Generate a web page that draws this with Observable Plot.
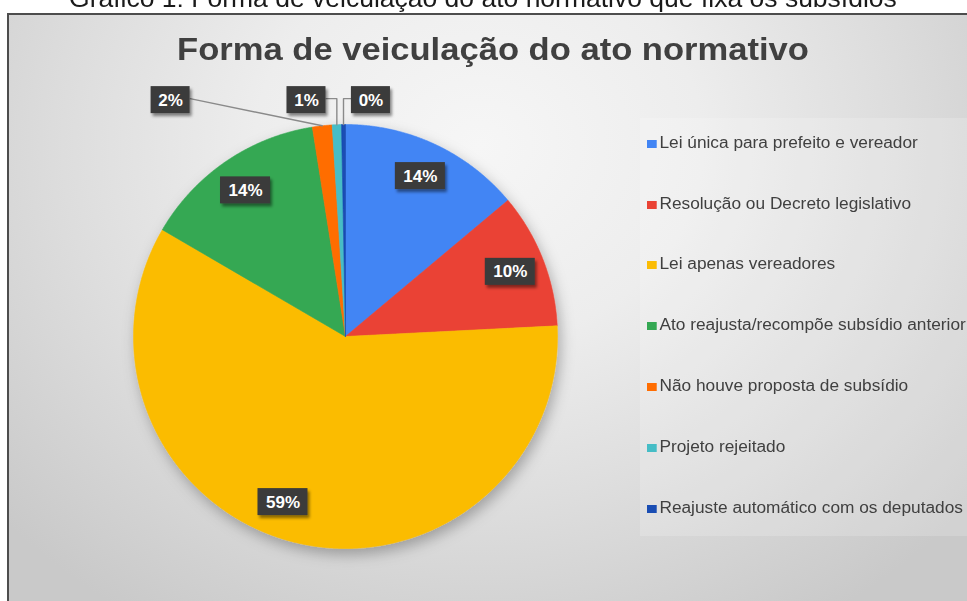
<!DOCTYPE html>
<html>
<head>
<meta charset="utf-8">
<script src="https://cdn.jsdelivr.net/npm/d3@7"></script>
<script src="https://cdn.jsdelivr.net/npm/@observablehq/plot@0.6"></script>
<style>
  html, body { margin: 0; padding: 0; }
  body { width: 967px; height: 601px; overflow: hidden; background: #fff; position: relative;
         font-family: "Liberation Sans", Arial, sans-serif; }
  #caption { position: absolute; left: 0; width: 967px; top: -14px; height: 25px; line-height: 25px;
             font-size: 25px; color: #1a1a1a; text-align: center; white-space: nowrap;
             transform: scaleX(1.06); transform-origin: 493px 0; }
  #frame { position: absolute; left: 7px; top: 13px; width: 1000px; height: 640px;
           border: 2px solid #4d4d4d; box-sizing: border-box;
           background: radial-gradient(ellipse 640px 560px at 470px 130px, #f6f6f6 0%, #ededed 35%, #dddddd 65%, #c9c9c9 100%); }
  #legendbox { position: absolute; left: 640px; top: 118px; width: 340px; height: 418px;
               background: rgba(255,255,255,0.18); }
  #title { position: absolute; left: 0; width: 986px; top: 33px; height: 32px; line-height: 32px;
           font-size: 32px; font-weight: bold; color: #404040; text-align: center; white-space: nowrap;
           transform: scaleX(1.08); transform-origin: 493px 0; }
  #chart { position: absolute; left: 0; top: 0; }
  .item { position: absolute; left: 647px; height: 16px; line-height: 16px; font-size: 16px;
          color: #404040; white-space: nowrap; transform: scaleX(1.08); transform-origin: 0 0; }
  .sw { display: inline-block; width: 8.5px; height: 8px; margin-right: 3px; vertical-align: baseline; }
</style>
</head>
<body>
<div id="caption">Gráfico 1: Forma de veiculação do ato normativo que fixa os subsídios</div>
<div id="frame"></div>
<div id="legendbox"></div>
<div id="title">Forma de veiculação do ato normativo</div>
<div id="chart"></div>
<div id="legend"></div>
<script>
// ---- data ----
const categories = [
  "Lei única para prefeito e vereador",
  "Resolução ou Decreto legislativo",
  "Lei apenas vereadores",
  "Ato reajusta/recompõe subsídio anterior",
  "Não houve proposta de subsídio",
  "Projeto rejeitado",
  "Reajuste automático com os deputados"
];
const values = [13.9, 10.3, 59.2, 14.1, 1.5, 0.7, 0.3];
const colors = ["#4285F4", "#EA4335", "#FBBC04", "#34A853", "#FF6D01", "#46BDC6", "#1A4DB3"];

// ---- layout (pixels / radius units) ----
const W = 967, H = 601, CX = 345, CY = 336, R = 212;
const insideRadius = 0.835;
const angleNudge = { "Lei apenas vereadores": 7 * Math.PI / 180 };
const outsideLabels = {
  "Não houve proposta de subsídio": { x: -0.825, y: 1.115, leader: "straight", side: "right" },
  "Projeto rejeitado": { x: -0.184, y: 1.115, leader: "elbow", side: "right" },
  "Reajuste automático com os deputados": { x: 0.12, y: 1.115, leader: "elbow", side: "left" }
};

const total = d3.sum(values);
const arcs = d3.pie().sort(null).value(d => d)(values);

// slice polygons
const piePoints = [];
arcs.forEach((a, i) => {
  const name = categories[i];
  const s = a.startAngle, e = a.endAngle;
  const n = Math.max(2, Math.ceil((e - s) / (0.25 * Math.PI / 180)));
  piePoints.push({ name, x: 0, y: 0 });
  for (let k = 0; k <= n; k++) {
    const t = s + (e - s) * k / n;
    piePoints.push({ name, x: Math.sin(t), y: Math.cos(t) });
  }
  piePoints.push({ name, x: 0, y: 0 });
});

// labels
const labels = [];
const leaders = [];
arcs.forEach((a, i) => {
  const name = categories[i];
  const text = Math.round(values[i] / total * 100) + "%";
  const wpx = text.length === 2 ? 39 : 50;
  const hw = wpx / 2 / R, hh = 27 / 2 / R;
  const mid = (a.startAngle + a.endAngle) / 2;
  let x, y;
  if (outsideLabels[name]) {
    const o = outsideLabels[name];
    x = o.x; y = o.y;
    const sx = o.side === "right" ? x + hw : x - hw;
    const ax = Math.sin(mid), ay = Math.cos(mid);
    leaders.push({ name, x: sx, y: y + 0.007 });
    if (o.leader === "elbow") leaders.push({ name, x: ax, y: y + 0.007 });
    leaders.push({ name, x: ax, y: ay });
  } else {
    const m = mid + (angleNudge[name] || 0);
    x = insideRadius * Math.sin(m); y = insideRadius * Math.cos(m);
  }
  labels.push({ name, text, x, y, x1: x - hw, x2: x + hw, y1: y - hh, y2: y + hh });
});

const chart = Plot.plot({
  width: W, height: H,
  margin: 0,
  style: { background: "transparent", overflow: "visible" },
  x: { domain: [-CX / R, (W - CX) / R], axis: null },
  y: { domain: [-(H - CY) / R, CY / R], axis: null },
  color: { domain: categories, range: colors },
  marks: [
    Plot.line(piePoints, { x: "x", y: "y", z: "name", fill: "name", stroke: "name", strokeWidth: 0.6, curve: "linear" }),
    Plot.line(leaders, { x: "x", y: "y", z: "name", stroke: "#8a8a8a", strokeWidth: 1.4, curve: "linear" }),
    Plot.rect(labels, { x1: "x1", x2: "x2", y1: "y1", y2: "y2", fill: "#3a3a3a" }),
    Plot.text(labels, { x: "x", y: "y", text: "text", fill: "#ffffff", fontSize: 17, fontWeight: "bold",
                        fontFamily: "Liberation Sans, Arial, sans-serif" })
  ]
});
document.getElementById("chart").appendChild(chart);

// shadows
const svg = d3.select(chart);
svg.insert("defs", ":first-child").html(
  '<filter id="pieShadow" x="-20%" y="-20%" width="140%" height="140%">' +
  '<feDropShadow dx="3" dy="6" stdDeviation="7" flood-color="#000" flood-opacity="0.28"/></filter>' +
  '<filter id="boxShadow" x="-30%" y="-30%" width="160%" height="160%">' +
  '<feDropShadow dx="2" dy="3" stdDeviation="1.5" flood-color="#000" flood-opacity="0.45"/></filter>'
);
const lineGroups = chart.querySelectorAll('g[aria-label="line"]');
if (lineGroups[0]) lineGroups[0].setAttribute("filter", "url(#pieShadow)");
const rectGroup = chart.querySelector('g[aria-label="rect"]');
if (rectGroup) rectGroup.setAttribute("filter", "url(#boxShadow)");

// legend
const capCenters = [142.8, 203.6, 264.4, 325.2, 386, 446.8, 507.6];
const legend = document.getElementById("legend");
categories.forEach((c, i) => {
  const d = document.createElement("div");
  d.className = "item";
  d.style.top = (capCenters[i] - 8) + "px";
  const sw = document.createElement("span");
  sw.className = "sw";
  sw.style.background = colors[i];
  d.appendChild(sw);
  d.appendChild(document.createTextNode(c));
  legend.appendChild(d);
});
</script>
</body>
</html>
